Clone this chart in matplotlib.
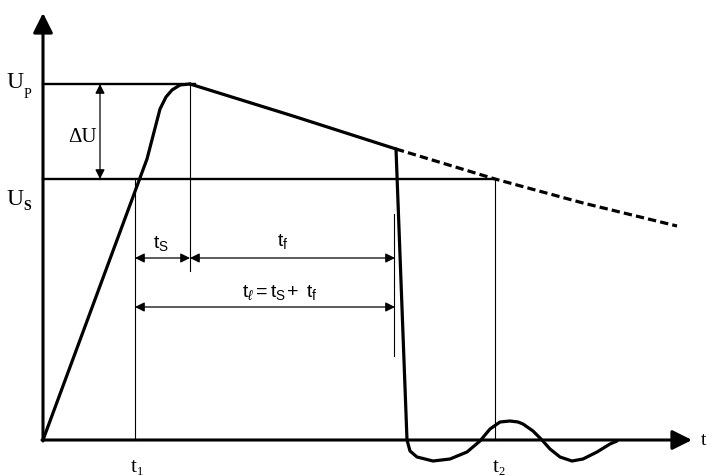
import numpy as np
import matplotlib
matplotlib.use('Agg')
import matplotlib.pyplot as plt

plt.rcParams['mathtext.fontset'] = 'custom'
plt.rcParams['mathtext.rm'] = 'Liberation Sans'
plt.rcParams['mathtext.it'] = 'Liberation Sans:italic'

# waveform (time, voltage in arbitrary units)
rise_t = [0, 104, 117, 123, 129, 137, 147]
rise_u = [0, 281, 331, 343, 350, 355, 356]
decay_t = [147, 250, 353]
decay_u = [356, 324, 291]
tail_t = [353, 452, 540, 634]
tail_u = [291, 261, 237, 214]
chop_t = [353, 364, 367, 374, 390, 407, 424, 437, 447, 457, 467, 475, 480, 490,
          499, 507, 517, 529, 540, 554, 567, 574]
chop_u = [291, 0, -11, -17, -21, -19, -12, -1, 11, 18, 19, 18, 16, 9,
          0, -9, -17, -21, -19, -12, -4, -1]

U_p = 356
U_s = 261
t1 = 92
t_peak = 147
t_chop = 352
t2 = 452

fig = plt.figure(figsize=(7.11, 4.77), dpi=100)
ax = fig.add_axes([0, 0, 1, 1])
ax.set_xlim(-43, 668)
ax.set_ylim(-36, 441)
ax.axis('off')

# axes with arrows
arr = dict(arrowstyle='-|>', lw=2.2, color='black', mutation_scale=30,
           shrinkA=0, shrinkB=0)
ax.annotate('', xy=(0, 427), xytext=(0, -1), arrowprops=arr)
ax.annotate('', xy=(649, 0), xytext=(-1, 0), arrowprops=arr)

# levels
ax.plot([0, t_peak + 5], [U_p, U_p], color='black', lw=1.7)
ax.plot([0, t2], [U_s, U_s], color='black', lw=1.7)

# waveform
kw = dict(color='black', lw=2.3, solid_capstyle='round', solid_joinstyle='round')
ax.plot(rise_t, rise_u, **kw)
ax.plot(decay_t, decay_u, **kw)
ax.plot(chop_t, chop_u, **kw)
ax.plot(tail_t, tail_u, color='black', lw=2.3, dashes=(2.6, 1.3))

# thin guide lines
ax.plot([t1, t1], [0, U_s], color='black', lw=0.8)
ax.plot([t2, t2], [0, U_s], color='black', lw=0.8)
ax.plot([t_peak, t_peak], [U_p, 169], color='black', lw=0.8)
ax.plot([t_chop - 1, t_chop - 1], [84, 226], color='black', lw=0.8)

# dimension arrows
dim = dict(arrowstyle='<|-|>', lw=0.9, color='black', mutation_scale=14,
           shrinkA=0, shrinkB=0)
ax.annotate('', xy=(57, U_p), xytext=(57, U_s), arrowprops=dim)
ax.annotate('', xy=(t1, 182), xytext=(t_peak, 182), arrowprops=dim)
ax.annotate('', xy=(t_peak, 182), xytext=(t_chop, 182), arrowprops=dim)
ax.annotate('', xy=(t1, 133), xytext=(t_chop, 133), arrowprops=dim)

# labels
serif = 'Liberation Serif'
ax.text(-28, 358, 'U', family=serif, fontsize=17, ha='center', va='center')
ax.text(-16, 346, 'P', family=serif, fontsize=10, ha='center', va='center')
ax.text(-28, 241, 'U', family=serif, fontsize=17, ha='center', va='center')
ax.text(-16, 234, 'S', family=serif, fontsize=10, ha='center', va='center',
        fontweight='bold')
ax.text(40, 304, 'ΔU', family=serif, fontsize=15, ha='center', va='center')

ax.text(118, 197, r'$\mathrm{t_S}$', fontsize=14, ha='center', va='center')
ax.text(240, 199, r'$\mathrm{t_f}$', fontsize=14, ha='center', va='center')
ax.text(237, 148, r'$\mathrm{t}_\ell = \mathrm{t_S}\!+\ \mathrm{t_f}$', fontsize=14,
        ha='center', va='center')

ax.text(t1 - 1, -27, 't', family=serif, fontsize=15, ha='center', va='center')
ax.text(t1 + 5, -31, '1', family=serif, fontsize=9, ha='center', va='center')
ax.text(t2 + 1, -27, 't', family=serif, fontsize=15, ha='center', va='center')
ax.text(t2 + 7, -31, '2', family=serif, fontsize=9, ha='center', va='center')
ax.text(658, 0, 't', family=serif, fontsize=14, ha='left', va='center')

fig.savefig('out.png', dpi=100)
